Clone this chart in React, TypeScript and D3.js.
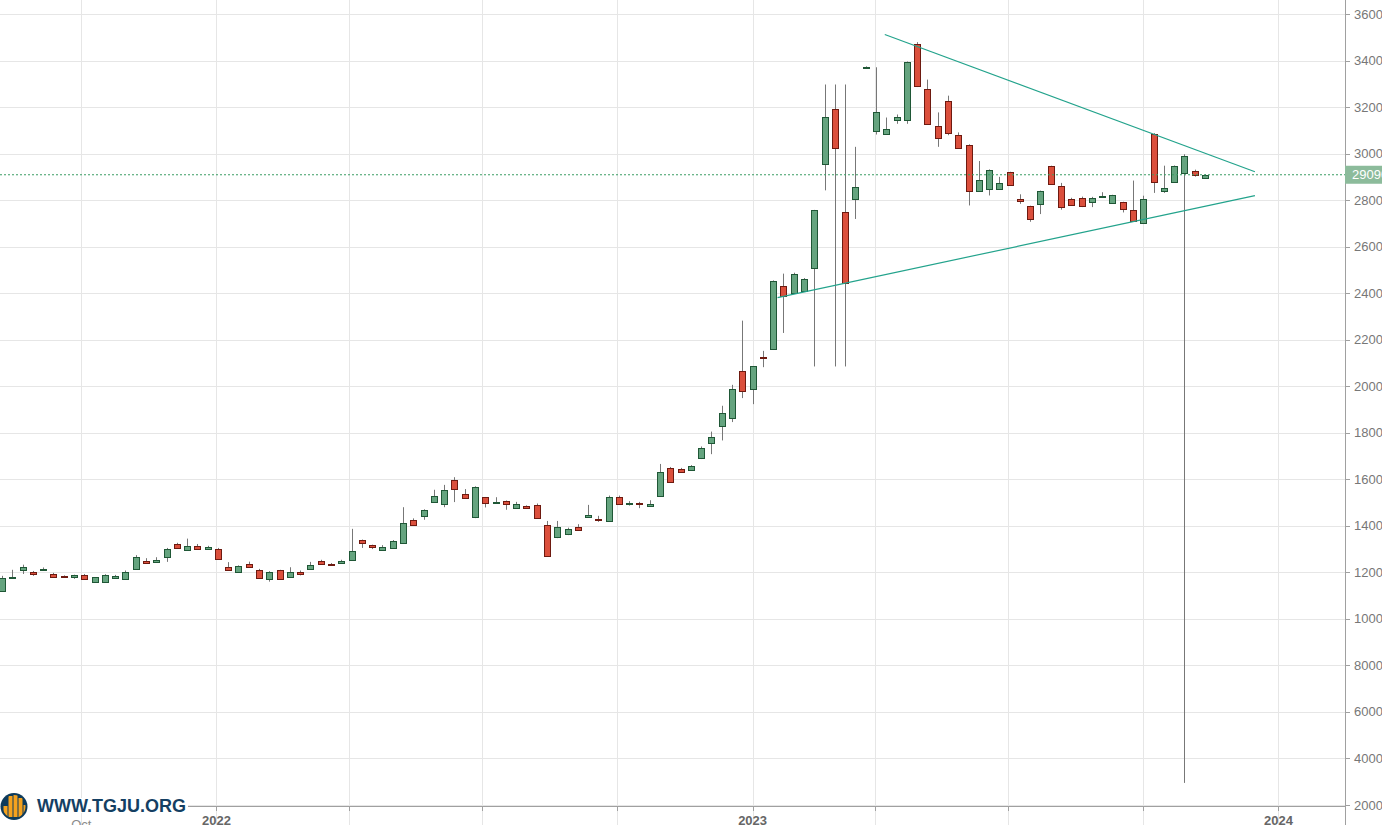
import React from 'react';
import * as d3 from 'd3';

// weekly candles, values in thousands (117.6 = 117,600)
const open = [
  112.0, 117.6, 120.8, 120.2, 120.8, 119.3, 118.5, 118.1, 118.9, 116.0,
  116.0, 117.6, 117.0, 121.4, 124.8, 124.5, 126.6, 132.2, 129.4, 131.4,
  130.2, 130.2, 122.2, 120.2, 123.6, 120.9, 117.0, 120.9, 118.0, 120.3,
  121.4, 124.8, 123.8, 124.1, 125.1, 133.7, 131.7, 129.4, 130.4, 132.5,
  142.4, 144.4, 150.2, 149.2, 159.8, 153.8, 143.7, 152.2, 149.9, 150.6,
  147.6, 148.4, 148.9, 140.3, 135.3, 136.4, 139.7, 143.9, 143.1, 142.0,
  152.6, 149.3, 150.0, 148.7, 153.0, 164.9, 164.4, 164.1, 169.1, 175.6,
  182.7, 186.3, 206.4, 198.8, 212.5, 216.0, 242.9, 240.1, 240.8, 250.8,
  295.6, 319.2, 274.7, 280.5, 337.1, 309.6, 308.5, 314.3, 314.3, 346.9,
  327.9, 311.7, 322.5, 307.9, 303.7, 283.8, 284.8, 284.8, 291.9, 280.5,
  277.3, 278.3, 294.5, 285.9, 280.6, 281.1, 279.1, 281.4, 278.8, 279.0,
  275.9, 270.2, 308.5, 283.8, 287.9, 291.7, 292.4, 289.5,
];
const high = [
  118.5, 121.1, 123.3, 120.6, 122.1, 119.8, 118.7, 119.0, 119.3, 118.0,
  119.2, 118.9, 120.8, 127.4, 126.1, 126.5, 130.5, 132.7, 134.5, 132.2,
  131.4, 130.5, 124.4, 123.0, 124.6, 121.5, 120.5, 121.1, 122.2, 120.8,
  124.5, 125.4, 124.0, 125.4, 138.7, 134.1, 131.9, 131.7, 133.9, 148.0,
  143.2, 147.1, 155.5, 157.6, 160.9, 155.8, 157.0, 152.4, 152.3, 150.9,
  150.3, 148.8, 149.6, 142.1, 142.1, 139.2, 140.7, 149.0, 144.3, 153.0,
  153.0, 150.6, 150.3, 151.0, 166.6, 165.3, 164.9, 166.1, 174.1, 180.5,
  191.6, 200.6, 228.2, 208.7, 215.2, 245.5, 248.4, 248.8, 246.5, 275.8,
  329.7, 329.7, 329.7, 302.9, 337.5, 337.1, 315.5, 316.8, 339.6, 347.9,
  331.8, 317.7, 324.9, 309.1, 304.0, 296.8, 293.2, 290.0, 292.2, 282.5,
  277.6, 284.1, 294.8, 287.4, 281.0, 281.5, 281.4, 283.4, 282.3, 279.3,
  288.4, 281.9, 308.8, 294.8, 294.9, 299.7, 293.1, 291.1,
];
const low = [
  111.6, 117.4, 119.3, 118.5, 120.6, 117.8, 117.9, 117.2, 116.9, 115.8,
  115.8, 117.4, 116.9, 121.2, 123.9, 124.3, 124.5, 130.2, 129.2, 129.8,
  130.0, 125.6, 120.6, 120.0, 122.2, 117.4, 116.0, 116.8, 117.8, 118.7,
  121.2, 123.3, 123.3, 123.9, 124.9, 130.5, 130.0, 129.2, 130.2, 132.3,
  140.3, 142.6, 150.0, 148.0, 150.2, 151.7, 143.3, 147.9, 149.7, 146.9,
  147.4, 147.3, 143.1, 126.9, 134.7, 136.0, 138.0, 143.7, 141.7, 141.8,
  149.1, 148.7, 147.6, 148.5, 152.8, 158.7, 163.1, 163.9, 168.7, 170.8,
  176.7, 184.6, 194.9, 192.3, 208.2, 215.8, 222.9, 239.9, 240.5, 208.5,
  284.2, 208.5, 208.5, 271.9, 337.0, 308.2, 308.3, 312.8, 312.8, 328.6,
  312.5, 302.9, 307.9, 302.2, 277.7, 283.6, 282.0, 284.6, 286.3, 278.4,
  270.7, 274.0, 286.7, 275.9, 277.5, 277.0, 277.0, 281.2, 278.6, 274.7,
  270.6, 269.8, 283.1, 283.1, 287.7, 29.5, 290.1, 289.3,
];
const close = [
  117.6, 118.1, 122.1, 119.1, 121.6, 118.1, 118.1, 118.8, 117.0, 117.9,
  118.9, 118.5, 120.3, 126.5, 124.1, 125.4, 130.2, 130.5, 131.4, 130.0,
  131.0, 125.8, 120.8, 122.8, 122.4, 117.6, 120.3, 117.0, 120.3, 119.2,
  123.1, 123.5, 123.5, 124.8, 129.1, 132.5, 131.1, 130.8, 133.5, 141.4,
  140.5, 146.9, 152.8, 155.5, 155.8, 151.9, 156.5, 149.7, 150.2, 149.3,
  149.4, 147.6, 143.3, 127.1, 139.7, 138.8, 138.4, 144.6, 142.6, 152.6,
  149.3, 149.6, 149.3, 149.4, 163.3, 158.9, 163.3, 165.5, 173.5, 178.0,
  188.7, 198.9, 197.8, 208.5, 212.1, 245.1, 238.6, 248.2, 246.1, 275.6,
  315.6, 302.4, 244.4, 285.5, 337.3, 317.7, 310.7, 315.6, 339.2, 328.9,
  312.8, 306.7, 308.9, 302.4, 283.8, 288.7, 292.8, 287.5, 286.5, 279.8,
  271.9, 283.8, 286.9, 276.9, 277.7, 277.3, 281.1, 281.8, 282.0, 276.2,
  270.9, 280.6, 287.6, 285.0, 294.5, 298.8, 290.8, 290.9,
];

// one candle per week, the Nowruz week has none
const firstWeek = new Date(2021, 7, 8);
const lastWeekEnd = new Date(2023, 10, 13);
const holidayWeeks = ['2023-03-26'];

const tickLabels = ['Oct', '2022', '', '', '', '2023', '', '', '', '2024'];
const yTicks = [20, 40, 60, 80, 100, 120, 140, 160, 180, 200, 220, 240, 260, 280, 300, 320, 340, 360];

// triangle drawn over the chart
const upperLine = [
  { date: new Date(2023, 3, 8), value: 351.2 },
  { date: new Date(2023, 11, 16), value: 292.2 },
];
const lowerLine = [
  { date: new Date(2023, 0, 18), value: 238.1 },
  { date: new Date(2023, 11, 16), value: 281.9 },
];

// logo bar tops (px inside the badge)
const logoBars = [806, 796, 794, 798, 805];

const W = 1382;
const H = 825;
const axisX = 1345;
const axisY = 806;

const fmtDay = d3.timeFormat('%Y-%m-%d');
const dates = d3.timeWeek
  .range(firstWeek, lastWeekEnd)
  .filter(d => !holidayWeeks.includes(fmtDay(d)));

const candles = dates.map((date, i) => ({
  date,
  o: open[i],
  h: high[i],
  l: low[i],
  c: close[i],
}));

export default function App() {
  const n = candles.length;
  const xi = d3.scaleLinear().domain([0, n - 1]).range([2, 1205]);
  // ordinal-like time axis: piecewise between candle dates
  const x = d3
    .scaleTime()
    .domain(dates)
    .range(dates.map((_, i) => xi(i)));
  const y = d3.scaleLinear().domain([20, 360]).range([805, 14]);

  const tickDates = d3.timeMonth.every(3)!.range(new Date(2021, 9, 1), new Date(2024, 0, 2));
  const last = candles[n - 1];
  const line = d3
    .line<{ date: Date; value: number }>()
    .x(d => x(d.date))
    .y(d => y(d.value));
  const fmt = d3.format('d');

  const font = '"Liberation Sans", Arial, sans-serif';
  const bw = 6;

  return (
    <div style={{ position: 'absolute', left: 0, top: 0, width: W, height: H, overflow: 'hidden', background: '#fff' }}>
      <svg width={W} height={H} style={{ display: 'block', fontFamily: font }}>
        <rect width={W} height={H} fill="#fff" />
        {/* grid */}
        {yTicks.map(t => (
          <line key={'gy' + t} x1={0} x2={axisX} y1={Math.round(y(t)) + 0.5} y2={Math.round(y(t)) + 0.5} stroke="#e6e6e6" />
        ))}
        {tickDates.map((d, i) => (
          <line key={'gx' + i} x1={Math.round(x(d)) + 0.5} x2={Math.round(x(d)) + 0.5} y1={0} y2={H} stroke="#e6e6e6" />
        ))}

        {/* axes */}
        <line x1={0} x2={axisX} y1={axisY + 0.5} y2={axisY + 0.5} stroke="#a0a0a0" />
        {tickDates.map((d, i) => (
          <line key={'tx' + i} x1={Math.round(x(d)) + 0.5} x2={Math.round(x(d)) + 0.5} y1={axisY} y2={axisY + 5} stroke="#a0a0a0" />
        ))}
        {tickDates.map((d, i) =>
          tickLabels[i] ? (
            <text
              key={'lx' + i}
              x={x(d)}
              y={i === 0 ? 829 : 825}
              textAnchor="middle"
              fontSize={13}
              fontWeight={i === 0 ? 'normal' : 'bold'}
              fill={i === 0 ? '#8a8a8a' : '#666'}
            >
              {tickLabels[i]}
            </text>
          ) : null,
        )}
        <line x1={axisX + 0.5} x2={axisX + 0.5} y1={0} y2={H} stroke="#a0a0a0" />
        {yTicks.map(t => (
          <g key={'ty' + t}>
            <line x1={axisX} x2={axisX + 5} y1={Math.round(y(t)) + 0.5} y2={Math.round(y(t)) + 0.5} stroke="#a0a0a0" />
            <text x={axisX + 9} y={y(t) + 4.5} fontSize={13} fill="#777">
              {fmt(t * 1000)}
            </text>
          </g>
        ))}

        {/* candles */}
        {candles.map((c, i) => {
          const cx = Math.round(x(c.date)) + 0.5;
          const up = c.c >= c.o;
          const top = Math.round(y(Math.max(c.o, c.c)));
          const bot = Math.round(y(Math.min(c.o, c.c)));
          const hgt = Math.max(1, bot - top);
          return (
            <g key={'c' + i}>
              <line x1={cx} x2={cx} y1={y(c.h)} y2={y(c.l)} stroke="#777" strokeWidth={1} />
              <rect
                x={cx - bw / 2}
                y={top + 0.5}
                width={bw}
                height={hgt}
                fill={up ? '#65a47f' : '#db4f3c'}
                stroke={up ? '#1f5736' : '#6e1a10'}
                strokeWidth={1}
              />
            </g>
          );
        })}

        {/* trend lines */}
        <path d={line(upperLine) ?? ''} fill="none" stroke="#23a38c" strokeWidth={1.2} />
        <path d={line(lowerLine) ?? ''} fill="none" stroke="#23a38c" strokeWidth={1.2} />

        {/* last price */}
        <line x1={0} x2={axisX} y1={y(last.c)} y2={y(last.c)} stroke="#3a9d63" strokeDasharray="2,2" />
        <rect x={axisX} y={y(last.c) - 9} width={W - axisX} height={18} fill="#8cbb9b" />
        <text x={axisX + 7} y={y(last.c) + 4.5} fontSize={13} fill="#fff">
          {fmt(last.c * 1000)}
        </text>

        {/* logo */}
        <rect x={0} y={798} width={188} height={15} fill="#fff" />
        <defs>
          <clipPath id="logoClip">
            <circle cx={14} cy={806.5} r={11.5} />
          </clipPath>
        </defs>
        <circle cx={14} cy={806.5} r={13.5} fill="#0d3b5c" />
        <g clipPath="url(#logoClip)" fill="#f5a21e">
          {logoBars.map((t, i) => (
            <rect key={'lb' + i} x={3.5 + i * 5} y={t} width={4} height={817 - t} />
          ))}
        </g>
        <text x={37} y={812} fontSize={18} fontWeight="bold" fill="#143f63">
          WWW.TGJU.ORG
        </text>
      </svg>
    </div>
  );
}
